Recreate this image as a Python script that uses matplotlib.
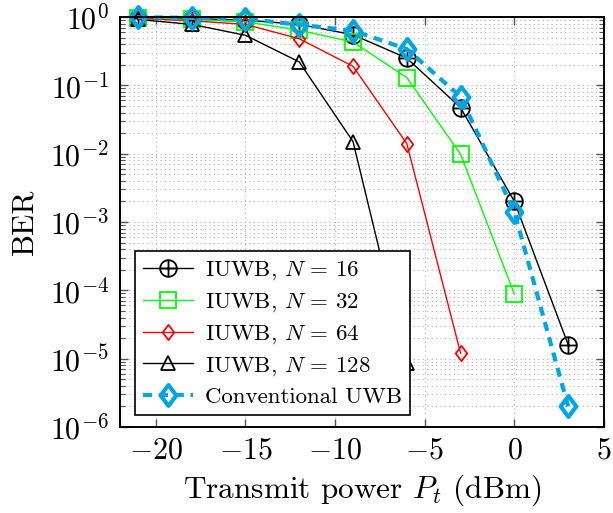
import numpy as np
import matplotlib
matplotlib.use("Agg")
import matplotlib.pyplot as plt
from matplotlib.path import Path
from matplotlib.ticker import LogLocator, FixedLocator, NullFormatter

plt.rcParams['font.family'] = 'serif'
plt.rcParams['font.serif'] = ['cmr10', 'DejaVu Serif']
plt.rcParams['mathtext.fontset'] = 'cm'
plt.rcParams['axes.formatter.use_mathtext'] = True
plt.rcParams['axes.unicode_minus'] = True

# ---- data ----
power_dbm = [-21, -18, -15, -12, -9, -6, -3, 0, 3]
ber_n16 = [0.98, 0.95, 0.9, 0.78, 0.55, 0.25, 0.047, 0.0020, 1.6e-5]
ber_n32 = [0.97, 0.92, 0.85, 0.64, 0.43, 0.13, 0.0098, 8.8e-5]
ber_n64 = [0.95, 0.88, 0.78, 0.48, 0.19, 0.014, 1.2e-5]
ber_n128 = [0.92, 0.78, 0.54, 0.22, 0.015, 8.5e-6]
ber_conv = [0.99, 0.97, 0.94, 0.77, 0.63, 0.34, 0.068, 0.0014, 2.0e-6]

labels = [r'IUWB, $N\,=\,16$', r'IUWB, $N\,=\,32$', r'IUWB, $N\,=\,64$',
          r'IUWB, $N\,=\,128$', 'Conventional UWB']
xticks = [-20, -15, -10, -5, 0, 5]

# ---- markers ----
oplus = Path.make_compound_path(
    Path.unit_circle(),
    Path([[-1, 0], [1, 0]], [Path.MOVETO, Path.LINETO]),
    Path([[0, -1], [0, 1]], [Path.MOVETO, Path.LINETO]))
diamond = Path([[0, 1], [0.75, 0], [0, -1], [-0.75, 0], [0, 1]],
               [Path.MOVETO, Path.LINETO, Path.LINETO, Path.LINETO, Path.CLOSEPOLY])

fig = plt.figure(figsize=(6.13, 5.13), dpi=100)
ax = fig.add_axes([120/613, 1-427/513, 484/613, 410/513])

blue = '#00a6e4'
common = dict(clip_on=False)
ax.plot(power_dbm[:len(ber_n16)], ber_n16, color='black', lw=1.0,
        marker=oplus, ms=12, mfc='none', mec='black', mew=1.3, label=labels[0], zorder=3, **common)
ax.plot(power_dbm[:len(ber_n32)], ber_n32, color='#00ff00', lw=1.0,
        marker='s', ms=11.5, mfc='none', mec='#00ff00', mew=1.3, label=labels[1], zorder=3, **common)
ax.plot(power_dbm[:len(ber_n64)], ber_n64, color='#ff0000', lw=1.0,
        marker=diamond, ms=11, mfc='none', mec='#ff0000', mew=1.3, label=labels[2], zorder=3, **common)
ax.plot(power_dbm[:len(ber_n128)], ber_n128, color='black', lw=1.0,
        marker='^', ms=10, mfc='none', mec='black', mew=1.3, label=labels[3], zorder=3, **common)
ax.plot(power_dbm[:len(ber_conv)], ber_conv, color=blue, lw=3.0, ls=(0, (2.2, 1.6)),
        marker=diamond, ms=15, mfc='none', mec=blue, mew=3.0, label=labels[4], zorder=4, **common)

ax.set_yscale('log')
ax.set_xlim(-22, 5)
ax.set_ylim(1e-6, 1)
ax.xaxis.set_major_locator(FixedLocator(xticks))
ax.yaxis.set_major_locator(LogLocator(base=10, numticks=10))
ax.yaxis.set_minor_locator(LogLocator(base=10, subs=np.arange(2, 10), numticks=20))
ax.yaxis.set_minor_formatter(NullFormatter())

ax.grid(True, which='major', axis='x', color='#b0b0b0', ls=(0, (1, 3)), lw=0.8)
ax.grid(True, which='both', axis='y', color='#b0b0b0', ls=(0, (1, 3)), lw=0.8)

ax.tick_params(which='both', direction='in', top=True, right=True, color='#555555')
ax.tick_params(which='major', length=6, width=1.0, labelsize=21.5)
ax.tick_params(axis='x', which='major', pad=7)
ax.tick_params(axis='y', which='major', pad=8)
ax.tick_params(which='minor', length=3.5, width=0.8)
for s in ax.spines.values():
    s.set_linewidth(1.4)
    s.set_zorder(5)

ax.set_xlabel(r'Transmit power $P_t$ (dBm)', fontsize=22.5, labelpad=6)
ax.set_ylabel('BER', fontsize=22.5, labelpad=8)

leg = ax.legend(loc='lower left', bbox_to_anchor=(0.031, 0.029), borderaxespad=0,
                fontsize=16.5, fancybox=False, edgecolor='black', framealpha=1,
                handlelength=2.2, handletextpad=0.5, borderpad=0.35, labelspacing=0.4)
leg.get_frame().set_linewidth(1.2)
leg.set_zorder(6)

fig.savefig('out.png', dpi=100)
